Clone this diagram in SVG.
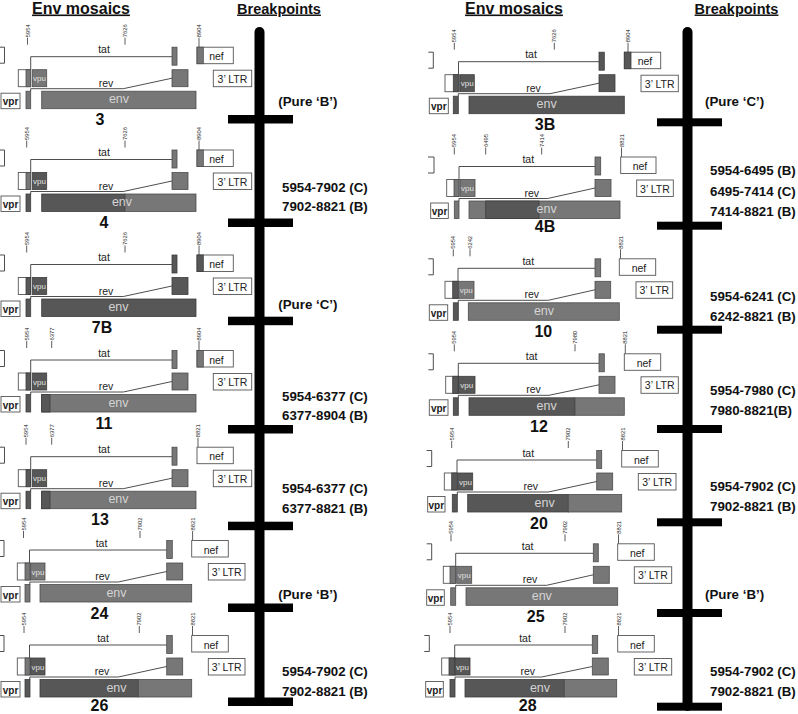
<svg xmlns="http://www.w3.org/2000/svg" width="798" height="714" viewBox="0 0 798 714">
<style>
.w{fill:#fff;stroke:#555;stroke-width:.9}
.B{fill:#777;stroke:#4d4d4d;stroke-width:.8}
.C{fill:#575757;stroke:#3c3c3c;stroke-width:.8}
.ln{fill:none;stroke:#3a3a3a;stroke-width:.9}
.tk{stroke:#333;stroke-width:.8}
text{font-family:"Liberation Sans",Arial,sans-serif;fill:#222}
.s{font-size:10.5px;text-anchor:middle}
.e{font-size:12.5px;fill:#d4d4d4;text-anchor:middle}
.v{font-size:8px;fill:#e2e2e2;text-anchor:middle}
.vp{font-size:10px;font-weight:bold;text-anchor:middle}
.lt{font-size:10.5px;text-anchor:middle}
.lab{font-size:16px;font-weight:bold;text-anchor:middle;fill:#111}
.n{font-size:5.8px;fill:#222}
.bp{font-size:13.3px;font-weight:bold;fill:#111}
.h{font-size:16px;font-weight:bold;text-decoration:underline;text-anchor:middle;fill:#111}
.hb{font-size:14.5px;font-weight:bold;text-decoration:underline;text-anchor:middle;fill:#111}
.bar{fill:#000}
</style>

<g id="titles">
<text class="h" x="81" y="13.5">Env mosaics</text>
<text class="hb" x="279" y="13.5">Breakpoints</text>
<text class="h" x="514" y="13.5">Env mosaics</text>
<text class="hb" x="736.5" y="13.5">Breakpoints</text>
</g>

<g id="connectors">
<rect class="bar" x="254.5" y="27" width="10" height="679" rx="5"/>
<rect class="bar" x="228" y="115" width="65" height="8.5"/>
<rect class="bar" x="228" y="218.5" width="65" height="8.5"/>
<rect class="bar" x="228" y="316.7" width="65" height="8.5"/>
<rect class="bar" x="228" y="425" width="65" height="8.5"/>
<rect class="bar" x="228" y="521.7" width="65" height="8.5"/>
<rect class="bar" x="228" y="603.5" width="65" height="8.5"/>
<rect class="bar" x="228" y="697.5" width="65" height="8.5"/>
<rect class="bar" x="682.5" y="27" width="10" height="684" rx="5"/>
<rect class="bar" x="657" y="118.3" width="65" height="8"/>
<rect class="bar" x="657" y="221.7" width="65" height="8"/>
<rect class="bar" x="657" y="325.7" width="65" height="8"/>
<rect class="bar" x="657" y="425" width="65" height="8"/>
<rect class="bar" x="657" y="518.3" width="65" height="8"/>
<rect class="bar" x="657" y="609" width="65" height="8"/>
<rect class="bar" x="657" y="702.7" width="65" height="8"/>
</g>

<g id="breakpoints-left">
<text class="bp" x="278.3" y="105.5">(Pure ‘B’)</text>
<text class="bp" x="282" y="191.7">5954-7902 (C)</text>
<text class="bp" x="282" y="211.3">7902-8821 (B)</text>
<text class="bp" x="278.3" y="309">(Pure ‘C’)</text>
<text class="bp" x="282" y="400.7">5954-6377 (C)</text>
<text class="bp" x="282" y="420.3">6377-8904 (B)</text>
<text class="bp" x="282" y="493">5954-6377 (C)</text>
<text class="bp" x="282" y="513">6377-8821 (B)</text>
<text class="bp" x="278.3" y="598.5">(Pure ‘B’)</text>
<text class="bp" x="282" y="676">5954-7902 (C)</text>
<text class="bp" x="282" y="696">7902-8821 (B)</text>
</g>
<g id="breakpoints-right">
<text class="bp" x="705" y="106">(Pure ‘C’)</text>
<text class="bp" x="710" y="175">5954-6495 (B)</text>
<text class="bp" x="710" y="195.5">6495-7414 (C)</text>
<text class="bp" x="710" y="216">7414-8821 (B)</text>
<text class="bp" x="710" y="301">5954-6241 (C)</text>
<text class="bp" x="710" y="321">6242-8821 (B)</text>
<text class="bp" x="710" y="395">5954-7980 (C)</text>
<text class="bp" x="710" y="414.5">7980-8821(B)</text>
<text class="bp" x="710" y="491">5954-7902 (C)</text>
<text class="bp" x="710" y="511">7902-8821 (B)</text>
<text class="bp" x="705" y="599">(Pure ‘B’)</text>
<text class="bp" x="710" y="676">5954-7902 (C)</text>
<text class="bp" x="710" y="696">7902-8821 (B)</text>
</g>

<!-- Panel 3 -->
<g id="p3" transform="translate(0,56.7)">
<path class="ln" d="M0,-9.5H4.5V6.5H0"/>
<line class="tk" x1="27.5" y1="-19" x2="27.5" y2="-12"/><text class="n" transform="translate(29.5,-19.5) rotate(-90)">5954</text>
<line class="tk" x1="125" y1="-19" x2="125" y2="-12"/><text class="n" transform="translate(127,-19.5) rotate(-90)">7626</text>
<line class="tk" x1="199" y1="-19" x2="199" y2="-9.5"/><text class="n" transform="translate(201,-19.5) rotate(-90)">8904</text>
<polyline class="ln" points="30.7,13 30.7,0 172,0"/>
<rect class="B" x="172" y="-9.5" width="5" height="18"/>
<rect class="w" x="197" y="-9.5" width="36.3" height="16.5"/><rect class="B" x="197" y="-9.5" width="6.3" height="16.5"/>
<text class="s" x="216.5" y="3.5">nef</text>
<text class="s" x="104" y="-3.5">tat</text>
<rect class="w" x="18.3" y="13" width="12.4" height="17"/><rect class="B" x="26" y="13" width="4.7" height="17"/>
<rect class="B" x="32.3" y="13" width="14.4" height="17"/><text class="v" x="39.5" y="24.5">vpu</text>
<rect class="B" x="172" y="13" width="16" height="17"/>
<rect class="w" x="213.3" y="13.5" width="38.4" height="16.5"/><text class="lt" x="232.5" y="26">3’ LTR</text>
<polyline class="ln" points="30.7,34.5 30.7,32 123.3,32 172,21.5"/>
<text class="s" x="106" y="30">rev</text>
<rect class="w" x="1" y="36.5" width="19" height="15.5"/><text class="vp" x="10.5" y="48.5">vpr</text>
<rect class="B" x="26" y="34.5" width="4.7" height="17.5"/>
<rect class="B" x="41.7" y="34.5" width="154.3" height="17.5"/>
<text class="e" x="119" y="46.5">env</text>
<text class="lab" x="100" y="68.5">3</text>
</g>

<!-- Panel 4 -->
<g id="p4" transform="translate(0,159.5)">
<path class="ln" d="M0,-9.5H4.5V6.5H0"/>
<line class="tk" x1="26.7" y1="-19" x2="26.7" y2="-12"/><text class="n" transform="translate(28.7,-19.5) rotate(-90)">5954</text>
<line class="tk" x1="125" y1="-19" x2="125" y2="-12"/><text class="n" transform="translate(127,-19.5) rotate(-90)">7626</text>
<line class="tk" x1="199" y1="-19" x2="199" y2="-9.5"/><text class="n" transform="translate(201,-19.5) rotate(-90)">8904</text>
<polyline class="ln" points="30.7,13 30.7,0 172,0"/>
<rect class="B" x="172" y="-9.5" width="5" height="18"/>
<rect class="w" x="197" y="-9.5" width="36.3" height="16.5"/><rect class="B" x="197" y="-9.5" width="6.3" height="16.5"/>
<text class="s" x="216.5" y="3.5">nef</text>
<text class="s" x="104" y="-3.5">tat</text>
<rect class="w" x="18.3" y="13" width="12.4" height="17"/><rect class="B" x="26" y="13" width="4.7" height="17"/>
<rect class="C" x="32.3" y="13" width="14.4" height="17"/><text class="v" x="39.5" y="24.5">vpu</text>
<rect class="B" x="172" y="13" width="16" height="17"/>
<rect class="w" x="213.3" y="13.5" width="38.4" height="16.5"/><text class="lt" x="232.5" y="26">3’ LTR</text>
<polyline class="ln" points="30.7,34.5 30.7,32 123.3,32 172,21.5"/>
<text class="s" x="106" y="30">rev</text>
<rect class="w" x="1" y="36.5" width="19" height="15.5"/><text class="vp" x="10.5" y="48.5">vpr</text>
<rect class="C" x="26" y="34.5" width="4.7" height="17.5"/>
<rect class="C" x="41.7" y="34.5" width="83.3" height="17.5"/>
<rect class="B" x="125" y="34.5" width="71" height="17.5"/>
<text class="e" x="122" y="46.5">env</text>
<text class="lab" x="104" y="68.5">4</text>
</g>

<!-- Panel 7B -->
<g id="p7B" transform="translate(0,264.5)">
<path class="ln" d="M0,-9.5H4.5V6.5H0"/>
<line class="tk" x1="26.7" y1="-19" x2="26.7" y2="-12"/><text class="n" transform="translate(28.7,-19.5) rotate(-90)">5954</text>
<line class="tk" x1="125" y1="-19" x2="125" y2="-12"/><text class="n" transform="translate(127,-19.5) rotate(-90)">7626</text>
<line class="tk" x1="199" y1="-19" x2="199" y2="-9.5"/><text class="n" transform="translate(201,-19.5) rotate(-90)">8904</text>
<polyline class="ln" points="30.7,13 30.7,0 172,0"/>
<rect class="C" x="172" y="-9.5" width="5" height="18"/>
<rect class="w" x="197" y="-9.5" width="36.3" height="16.5"/><rect class="C" x="197" y="-9.5" width="6.3" height="16.5"/>
<text class="s" x="216.5" y="3.5">nef</text>
<text class="s" x="104" y="-3.5">tat</text>
<rect class="w" x="18.3" y="13" width="12.4" height="17"/><rect class="C" x="26" y="13" width="4.7" height="17"/>
<rect class="C" x="32.3" y="13" width="14.4" height="17"/><text class="v" x="39.5" y="24.5">vpu</text>
<rect class="C" x="172" y="13" width="16" height="17"/>
<rect class="w" x="213.3" y="13.5" width="38.4" height="16.5"/><text class="lt" x="232.5" y="26">3’ LTR</text>
<polyline class="ln" points="30.7,34.5 30.7,32 123.3,32 172,21.5"/>
<text class="s" x="106" y="30">rev</text>
<rect class="w" x="1" y="36.5" width="19" height="15.5"/><text class="vp" x="10.5" y="48.5">vpr</text>
<rect class="C" x="26" y="34.5" width="4.7" height="17.5"/>
<rect class="C" x="41.7" y="34.5" width="154.3" height="17.5"/>
<text class="e" x="118.5" y="46.5">env</text>
<text class="lab" x="102" y="68.5">7B</text>
</g>

<!-- Panel 11 -->
<g id="p11" transform="translate(0,360)">
<path class="ln" d="M0,-9.5H4.5V6.5H0"/>
<line class="tk" x1="26.7" y1="-19" x2="26.7" y2="-12"/><text class="n" transform="translate(28.7,-19.5) rotate(-90)">5954</text>
<line class="tk" x1="51.7" y1="-19" x2="51.7" y2="-12"/><text class="n" transform="translate(53.7,-19.5) rotate(-90)">6377</text>
<line class="tk" x1="199" y1="-19" x2="199" y2="-9.5"/><text class="n" transform="translate(201,-19.5) rotate(-90)">8904</text>
<polyline class="ln" points="30.7,13 30.7,0 172,0"/>
<rect class="B" x="172" y="-9.5" width="5" height="18"/>
<rect class="w" x="197" y="-9.5" width="36.3" height="16.5"/><rect class="B" x="197" y="-9.5" width="6.3" height="16.5"/>
<text class="s" x="216.5" y="3.5">nef</text>
<text class="s" x="104" y="-3.5">tat</text>
<rect class="w" x="18.3" y="13" width="12.4" height="17"/><rect class="C" x="26" y="13" width="4.7" height="17"/>
<rect class="C" x="32.3" y="13" width="14.4" height="17"/><text class="v" x="39.5" y="24.5">vpu</text>
<rect class="B" x="172" y="13" width="16" height="17"/>
<rect class="w" x="213.3" y="13.5" width="38.4" height="16.5"/><text class="lt" x="232.5" y="26">3’ LTR</text>
<polyline class="ln" points="30.7,34.5 30.7,32 123.3,32 172,21.5"/>
<text class="s" x="106" y="30">rev</text>
<rect class="w" x="1" y="36.5" width="19" height="15.5"/><text class="vp" x="10.5" y="48.5">vpr</text>
<rect class="C" x="26" y="34.5" width="4.7" height="17.5"/>
<rect class="B" x="41.7" y="34.5" width="154.3" height="17.5"/>
<rect class="C" x="41.7" y="34.5" width="8.3" height="17.5"/>
<text class="e" x="118.5" y="46.5">env</text>
<text class="lab" x="104" y="68.5">11</text>
</g>

<!-- Panel 13 -->
<g id="p13" transform="translate(0,456.7)">
<path class="ln" d="M0,-9.5H4.5V6.5H0"/>
<line class="tk" x1="26" y1="-19" x2="26" y2="-12"/><text class="n" transform="translate(28,-19.5) rotate(-90)">5954</text>
<line class="tk" x1="51.7" y1="-19" x2="51.7" y2="-12"/><text class="n" transform="translate(53.7,-19.5) rotate(-90)">6377</text>
<line class="tk" x1="198" y1="-19" x2="198" y2="-9.5"/><text class="n" transform="translate(200,-19.5) rotate(-90)">8821</text>
<polyline class="ln" points="30.7,13 30.7,0 172,0"/>
<rect class="B" x="172" y="-9.5" width="5" height="18"/>
<rect class="w" x="197" y="-9.5" width="36.3" height="16.5"/>
<text class="s" x="216.5" y="3.5">nef</text>
<text class="s" x="104" y="-3.5">tat</text>
<rect class="w" x="18.3" y="13" width="12.4" height="17"/><rect class="C" x="26" y="13" width="4.7" height="17"/>
<rect class="C" x="32.3" y="13" width="14.4" height="17"/><text class="v" x="39.5" y="24.5">vpu</text>
<rect class="B" x="172" y="13" width="16" height="17"/>
<rect class="w" x="213.3" y="13.5" width="38.4" height="16.5"/><text class="lt" x="232.5" y="26">3’ LTR</text>
<polyline class="ln" points="30.7,34.5 30.7,32 123.3,32 172,21.5"/>
<text class="s" x="106" y="30">rev</text>
<rect class="w" x="1" y="36.5" width="19" height="15.5"/><text class="vp" x="10.5" y="48.5">vpr</text>
<rect class="C" x="26" y="34.5" width="4.7" height="17.5"/>
<rect class="B" x="41.7" y="34.5" width="154.3" height="17.5"/>
<rect class="C" x="41.7" y="34.5" width="8.3" height="17.5"/>
<text class="e" x="118.5" y="46.5">env</text>
<text class="lab" x="100" y="68.5">13</text>
</g>

<!-- Panel 24 -->
<g id="p24" transform="translate(0,550)">
<path class="ln" d="M0,-9.5H4V6.5H0"/>
<line class="tk" x1="23.5" y1="-19" x2="23.5" y2="-12"/><text class="n" transform="translate(25.5,-19.5) rotate(-90)">5954</text>
<line class="tk" x1="140" y1="-19" x2="140" y2="-12"/><text class="n" transform="translate(142,-19.5) rotate(-90)">7902</text>
<line class="tk" x1="192.6" y1="-19" x2="192.6" y2="-9.5"/><text class="n" transform="translate(194.6,-19.5) rotate(-90)">8821</text>
<polyline class="ln" points="29.5,13 29.5,0 166.7,0"/>
<rect class="B" x="166.7" y="-9.5" width="5.6" height="18"/>
<rect class="w" x="191.7" y="-9.5" width="36.6" height="16.5"/>
<text class="s" x="211" y="3.5">nef</text>
<text class="s" x="101.5" y="-3.5">tat</text>
<rect class="w" x="17.3" y="13" width="12.7" height="17"/><rect class="B" x="25" y="13" width="5" height="17"/>
<rect class="B" x="30.7" y="13" width="14.3" height="17"/><text class="v" x="38" y="24.5">vpu</text>
<rect class="B" x="166.7" y="13" width="16" height="17"/>
<rect class="w" x="208.3" y="13.5" width="36.7" height="16.5"/><text class="lt" x="226.7" y="26">3’ LTR</text>
<polyline class="ln" points="29.8,34.5 29.8,32 118.3,32 166.7,21.5"/>
<text class="s" x="102.5" y="30">rev</text>
<rect class="w" x="1" y="36.5" width="19" height="15.5"/><text class="vp" x="10.5" y="48.5">vpr</text>
<rect class="B" x="25" y="34.5" width="5" height="17.5"/>
<rect class="B" x="40" y="34.5" width="151.7" height="17.5"/>
<text class="e" x="116.5" y="46.5">env</text>
<text class="lab" x="99.5" y="68.5">24</text>
</g>

<!-- Panel 26 -->
<g id="p26" transform="translate(0,645)">
<path class="ln" d="M0,-9.5H4V6.5H0"/>
<line class="tk" x1="24" y1="-19" x2="24" y2="-12"/><text class="n" transform="translate(26,-19.5) rotate(-90)">5954</text>
<line class="tk" x1="139.3" y1="-19" x2="139.3" y2="-12"/><text class="n" transform="translate(141.3,-19.5) rotate(-90)">7902</text>
<line class="tk" x1="192.5" y1="-19" x2="192.5" y2="-9.5"/><text class="n" transform="translate(194.5,-19.5) rotate(-90)">8821</text>
<polyline class="ln" points="29.5,13 29.5,0 166.7,0"/>
<rect class="B" x="166.7" y="-9.5" width="5.6" height="18"/>
<rect class="w" x="191.7" y="-9.5" width="36.6" height="16.5"/>
<text class="s" x="211" y="3.5">nef</text>
<text class="s" x="103" y="-3.5">tat</text>
<rect class="w" x="17.3" y="13" width="12.7" height="17"/><rect class="B" x="25" y="13" width="5" height="17"/>
<rect class="C" x="30.7" y="13" width="14.3" height="17"/><text class="v" x="38" y="24.5">vpu</text>
<rect class="B" x="166.7" y="13" width="16" height="17"/>
<rect class="w" x="208.3" y="13.5" width="36.7" height="16.5"/><text class="lt" x="226.7" y="26">3’ LTR</text>
<polyline class="ln" points="29.8,34.5 29.8,32 118.3,32 166.7,21.5"/>
<text class="s" x="102" y="30">rev</text>
<rect class="w" x="1" y="36.5" width="19" height="15.5"/><text class="vp" x="10.5" y="48.5">vpr</text>
<rect class="C" x="25" y="34.5" width="5" height="17.5"/>
<rect class="C" x="40" y="34.5" width="98.3" height="17.5"/>
<rect class="B" x="138.3" y="34.5" width="53.4" height="17.5"/>
<text class="e" x="116.5" y="46.5">env</text>
<text class="lab" x="99.5" y="66">26</text>
</g>

<!-- Panel 3B -->
<g id="p3B" transform="translate(0,61.7)">
<path class="ln" d="M428.3,-9.5H433.3V6.5H428.3"/>
<line class="tk" x1="454.3" y1="-19" x2="454.3" y2="-12"/><text class="n" transform="translate(456.3,-19.5) rotate(-90)">5954</text>
<line class="tk" x1="554.3" y1="-19" x2="554.3" y2="-12"/><text class="n" transform="translate(556.3,-19.5) rotate(-90)">7626</text>
<line class="tk" x1="628" y1="-19" x2="628" y2="-9.5"/><text class="n" transform="translate(630,-19.5) rotate(-90)">8904</text>
<polyline class="ln" points="458.5,13 458.5,0 599,0"/>
<rect class="C" x="599" y="-9.5" width="5.3" height="18"/>
<rect class="w" x="624.3" y="-9.5" width="36.4" height="16.5"/><rect class="C" x="624.3" y="-9.5" width="6.7" height="16.5"/>
<text class="s" x="645" y="3.5">nef</text>
<text class="s" x="531" y="-3.5">tat</text>
<rect class="w" x="445" y="13" width="14" height="17"/><rect class="C" x="453.3" y="13" width="5.7" height="17"/>
<rect class="C" x="460" y="13" width="14.3" height="17"/><text class="v" x="467.2" y="24.5">vpu</text>
<rect class="C" x="599" y="13" width="16" height="17"/>
<rect class="w" x="641" y="13.5" width="37.3" height="16.5"/><text class="lt" x="659.7" y="26">3’ LTR</text>
<polyline class="ln" points="458.3,34.5 458.3,32 550,32 599,21.5"/>
<text class="s" x="533.5" y="30">rev</text>
<rect class="w" x="429.3" y="36.5" width="19" height="15.5"/><text class="vp" x="438.8" y="48.5">vpr</text>
<rect class="C" x="453.3" y="34.5" width="5" height="17.5"/>
<rect class="C" x="469" y="34.5" width="155.3" height="17.5"/>
<text class="e" x="546.7" y="46.5">env</text>
<text class="lab" x="545" y="68.5">3B</text>
</g>

<!-- Panel 4B -->
<g id="p4B" transform="translate(0,166.5)">
<path class="ln" d="M428,-9.5H434V6.5H428"/>
<line class="tk" x1="454.3" y1="-19" x2="454.3" y2="-12"/><text class="n" transform="translate(456.3,-19.5) rotate(-90)">5954</text>
<line class="tk" x1="485.7" y1="-19" x2="485.7" y2="-12"/><text class="n" transform="translate(487.7,-19.5) rotate(-90)">6495</text>
<line class="tk" x1="541.7" y1="-19" x2="541.7" y2="-12"/><text class="n" transform="translate(543.7,-19.5) rotate(-90)">7414</text>
<line class="tk" x1="621.5" y1="-19" x2="621.5" y2="-9.5"/><text class="n" transform="translate(623.5,-19.5) rotate(-90)">8821</text>
<polyline class="ln" points="459,13 459,0 595,0"/>
<rect class="B" x="595" y="-9.5" width="5.7" height="18"/>
<rect class="w" x="620.7" y="-9.5" width="35.3" height="16.5"/>
<text class="s" x="640" y="3.5">nef</text>
<text class="s" x="528.3" y="-3.5">tat</text>
<rect class="w" x="446.7" y="13" width="12.3" height="17"/><rect class="B" x="454" y="13" width="5" height="17"/>
<rect class="B" x="460" y="13" width="15" height="17"/><text class="v" x="467.5" y="24.5">vpu</text>
<rect class="B" x="595" y="13" width="16" height="17"/>
<rect class="w" x="636.7" y="13.5" width="36.6" height="16.5"/><text class="lt" x="655" y="26">3’ LTR</text>
<polyline class="ln" points="459,34.5 459,32 547.7,32 595,21.5"/>
<text class="s" x="531.7" y="30">rev</text>
<rect class="w" x="430.7" y="36.5" width="17.6" height="15.5"/><text class="vp" x="439.5" y="48.5">vpr</text>
<rect class="B" x="454.3" y="34.5" width="4.7" height="17.5"/>
<rect class="B" x="469" y="34.5" width="151" height="17.5"/>
<rect class="C" x="485.7" y="34.5" width="53.3" height="17.5"/>
<text class="e" x="546.7" y="46.5">env</text>
<text class="lab" x="545" y="65.5">4B</text>
</g>

<!-- Panel 10 -->
<g id="p10" transform="translate(0,268.3)">
<path class="ln" d="M428.3,-9.5H433.3V6.5H428.3"/>
<line class="tk" x1="453.3" y1="-19" x2="453.3" y2="-12"/><text class="n" transform="translate(455.3,-19.5) rotate(-90)">5954</text>
<line class="tk" x1="470" y1="-19" x2="470" y2="-12"/><text class="n" transform="translate(472,-19.5) rotate(-90)">6242</text>
<line class="tk" x1="620.5" y1="-19" x2="620.5" y2="-9.5"/><text class="n" transform="translate(622.5,-19.5) rotate(-90)">8821</text>
<polyline class="ln" points="458,13 458,0 595,0"/>
<rect class="B" x="595" y="-9.5" width="5.7" height="18"/>
<rect class="w" x="619.3" y="-9.5" width="36.4" height="16.5"/>
<text class="s" x="639" y="3.5">nef</text>
<text class="s" x="528.3" y="-3.5">tat</text>
<rect class="w" x="445" y="13" width="13.3" height="17"/><rect class="C" x="452.7" y="13" width="5.6" height="17"/>
<rect class="B" x="458.3" y="13" width="15.7" height="17"/><text class="v" x="466.2" y="24.5">vpu</text>
<rect class="B" x="595" y="13" width="15.7" height="17"/>
<rect class="w" x="636" y="13.5" width="36.7" height="16.5"/><text class="lt" x="654.3" y="26">3’ LTR</text>
<polyline class="ln" points="458.3,34.5 458.3,32 548.3,32 595,21.5"/>
<text class="s" x="531.7" y="30">rev</text>
<rect class="w" x="429.3" y="36.5" width="18.4" height="15.5"/><text class="vp" x="438.5" y="48.5">vpr</text>
<rect class="C" x="453.3" y="34.5" width="5" height="17.5"/>
<rect class="B" x="468.3" y="34.5" width="151" height="17.5"/>
<text class="e" x="544" y="46.5">env</text>
<text class="lab" x="543.3" y="68.5">10</text>
</g>

<!-- Panel 12 -->
<g id="p12" transform="translate(0,363.3)">
<path class="ln" d="M428.3,-9.5H433.3V6.5H428.3"/>
<line class="tk" x1="454.3" y1="-19" x2="454.3" y2="-12"/><text class="n" transform="translate(456.3,-19.5) rotate(-90)">5954</text>
<line class="tk" x1="575" y1="-19" x2="575" y2="-12"/><text class="n" transform="translate(577,-19.5) rotate(-90)">7980</text>
<line class="tk" x1="625.3" y1="-19" x2="625.3" y2="-9.5"/><text class="n" transform="translate(627.3,-19.5) rotate(-90)">8821</text>
<polyline class="ln" points="458.3,13 458.3,0 599,0"/>
<rect class="B" x="599" y="-9.5" width="5.3" height="18"/>
<rect class="w" x="624.3" y="-9.5" width="36.4" height="16.5"/>
<text class="s" x="644" y="3.5">nef</text>
<text class="s" x="531.7" y="-3.5">tat</text>
<rect class="w" x="445.7" y="13" width="12.6" height="17"/><rect class="C" x="452.7" y="13" width="5.6" height="17"/>
<rect class="C" x="458.3" y="13" width="16.7" height="17"/><text class="v" x="466.7" y="24.5">vpu</text>
<rect class="B" x="599" y="13" width="16" height="17"/>
<rect class="w" x="641" y="13.5" width="37.3" height="16.5"/><text class="lt" x="659.7" y="26">3’ LTR</text>
<polyline class="ln" points="458.3,34.5 458.3,32 549,32 599,21.5"/>
<text class="s" x="533.5" y="30">rev</text>
<rect class="w" x="429.3" y="36.5" width="18.7" height="15.5"/><text class="vp" x="438.7" y="48.5">vpr</text>
<rect class="C" x="453.3" y="34.5" width="5" height="17.5"/>
<rect class="C" x="469" y="34.5" width="106" height="17.5"/>
<rect class="B" x="575" y="34.5" width="49.3" height="17.5"/>
<text class="e" x="546.7" y="46.5">env</text>
<text class="lab" x="539" y="68.5">12</text>
</g>

<!-- Panel 20 -->
<g id="p20" transform="translate(0,460)">
<path class="ln" d="M426.7,-9.5H431.7V6.5H426.7"/>
<line class="tk" x1="451.7" y1="-19" x2="451.7" y2="-12"/><text class="n" transform="translate(453.7,-19.5) rotate(-90)">5954</text>
<line class="tk" x1="568.3" y1="-19" x2="568.3" y2="-12"/><text class="n" transform="translate(570.3,-19.5) rotate(-90)">7902</text>
<line class="tk" x1="622.5" y1="-19" x2="622.5" y2="-9.5"/><text class="n" transform="translate(624.5,-19.5) rotate(-90)">8821</text>
<polyline class="ln" points="457,13 457,0 596.7,0"/>
<rect class="B" x="596.7" y="-9.5" width="5" height="18"/>
<rect class="w" x="621.7" y="-9.5" width="36.6" height="16.5"/>
<text class="s" x="641.2" y="3.5">nef</text>
<text class="s" x="528.3" y="-3.5">tat</text>
<rect class="w" x="444.3" y="13" width="13" height="17"/><rect class="C" x="451.7" y="13" width="5.6" height="17"/>
<rect class="C" x="458.3" y="13" width="14.4" height="17"/><text class="v" x="465.5" y="24.5">vpu</text>
<rect class="B" x="596.7" y="13" width="16" height="17"/>
<rect class="w" x="638.3" y="13.5" width="37.7" height="16.5"/><text class="lt" x="657.1" y="26">3’ LTR</text>
<polyline class="ln" points="457.3,34.5 457.3,32 548.3,32 596.7,21.5"/>
<text class="s" x="530.8" y="30">rev</text>
<rect class="w" x="427.7" y="36.5" width="17.3" height="15.5"/><text class="vp" x="436.3" y="48.5">vpr</text>
<rect class="C" x="452.3" y="34.5" width="5" height="17.5"/>
<rect class="C" x="467.7" y="34.5" width="100.6" height="17.5"/>
<rect class="B" x="568.3" y="34.5" width="53.4" height="17.5"/>
<text class="e" x="544.7" y="46.5">env</text>
<text class="lab" x="539" y="68.5">20</text>
</g>

<!-- Panel 25 -->
<g id="p25" transform="translate(0,553.3)">
<path class="ln" d="M426.7,-9.5H431.7V6.5H426.7"/>
<line class="tk" x1="451" y1="-19" x2="451" y2="-12"/><text class="n" transform="translate(453,-19.5) rotate(-90)">5954</text>
<line class="tk" x1="565" y1="-19" x2="565" y2="-12"/><text class="n" transform="translate(567,-19.5) rotate(-90)">7902</text>
<line class="tk" x1="618.5" y1="-19" x2="618.5" y2="-9.5"/><text class="n" transform="translate(620.5,-19.5) rotate(-90)">8821</text>
<polyline class="ln" points="455.7,13 455.7,0 593.3,0"/>
<rect class="B" x="593.3" y="-9.5" width="5" height="18"/>
<rect class="w" x="617.7" y="-9.5" width="36.6" height="16.5"/>
<text class="s" x="637.2" y="3.5">nef</text>
<text class="s" x="527.7" y="-3.5">tat</text>
<rect class="w" x="443.3" y="13" width="12.4" height="17"/><rect class="B" x="450" y="13" width="5.7" height="17"/>
<rect class="B" x="456.7" y="13" width="15" height="17"/><text class="v" x="464.2" y="24.5">vpu</text>
<rect class="B" x="593.3" y="13" width="16" height="17"/>
<rect class="w" x="634.3" y="13.5" width="37.4" height="16.5"/><text class="lt" x="653" y="26">3’ LTR</text>
<polyline class="ln" points="455.7,34.5 455.7,32 546.7,32 593.3,21.5"/>
<text class="s" x="530" y="30">rev</text>
<rect class="w" x="426.7" y="36.5" width="17.6" height="15.5"/><text class="vp" x="435.5" y="48.5">vpr</text>
<rect class="B" x="450.7" y="34.5" width="5" height="17.5"/>
<rect class="B" x="466" y="34.5" width="151.7" height="17.5"/>
<text class="e" x="541.8" y="46.5">env</text>
<text class="lab" x="535.7" y="68.5">25</text>
</g>

<!-- Panel 28 -->
<g id="p28" transform="translate(0,645)">
<path class="ln" d="M424.3,-9.5H429.3V6.5H424.3"/>
<line class="tk" x1="450" y1="-19" x2="450" y2="-12"/><text class="n" transform="translate(452,-19.5) rotate(-90)">5954</text>
<line class="tk" x1="565" y1="-19" x2="565" y2="-12"/><text class="n" transform="translate(567,-19.5) rotate(-90)">7902</text>
<line class="tk" x1="618.5" y1="-19" x2="618.5" y2="-9.5"/><text class="n" transform="translate(620.5,-19.5) rotate(-90)">8821</text>
<polyline class="ln" points="454.7,13 454.7,0 592.3,0"/>
<rect class="B" x="592.3" y="-9.5" width="5.4" height="18"/>
<rect class="w" x="617.7" y="-9.5" width="36.6" height="16.5"/>
<text class="s" x="637.2" y="3.5">nef</text>
<text class="s" x="525" y="-3.5">tat</text>
<rect class="w" x="441.7" y="13" width="13.3" height="17"/><rect class="C" x="449" y="13" width="6" height="17"/>
<rect class="C" x="455" y="13" width="15" height="17"/><text class="v" x="462.5" y="24.5">vpu</text>
<rect class="B" x="592.3" y="13" width="16" height="17"/>
<rect class="w" x="634.3" y="13.5" width="37.4" height="16.5"/><text class="lt" x="653" y="26">3’ LTR</text>
<polyline class="ln" points="455,34.5 455,32 541.7,32 592.3,21.5"/>
<text class="s" x="527.7" y="30">rev</text>
<rect class="w" x="425.7" y="36.5" width="17.6" height="15.5"/><text class="vp" x="434.5" y="48.5">vpr</text>
<rect class="C" x="450" y="34.5" width="5" height="17.5"/>
<rect class="C" x="465" y="34.5" width="99.3" height="17.5"/>
<rect class="B" x="564.3" y="34.5" width="52.4" height="17.5"/>
<text class="e" x="540" y="46.5">env</text>
<text class="lab" x="527.7" y="66">28</text>
</g>
</svg>
